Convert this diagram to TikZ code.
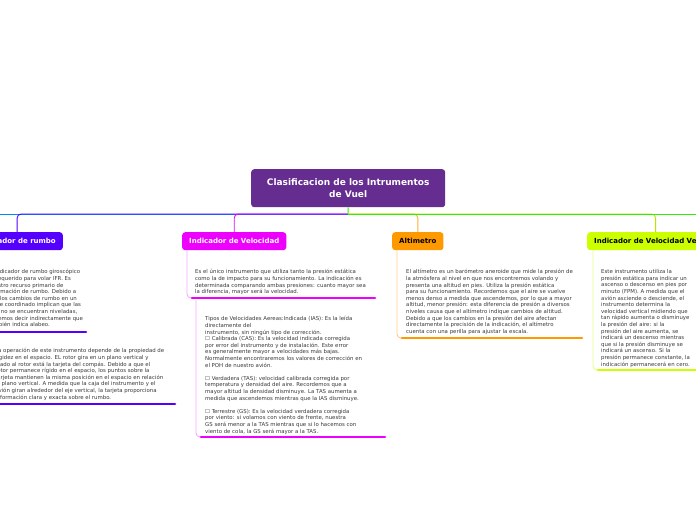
\documentclass[tikz,border=0pt]{standalone}
\usepackage{fontspec}
\setmainfont{DejaVu Sans}
\definecolor{purp}{HTML}{662D91}
\definecolor{rumboc}{HTML}{5500FF}
\definecolor{veloc}{HTML}{EE00FF}
\definecolor{altic}{HTML}{FF9900}
\definecolor{vvc}{HTML}{CCFF00}
\definecolor{greenc}{HTML}{33EE00}
\definecolor{lblue}{HTML}{0088FF}
\definecolor{lpink}{HTML}{F8A8FF}
\definecolor{lorange}{HTML}{FFCC88}
\definecolor{llime}{HTML}{E4FF88}
\definecolor{txt}{HTML}{3A3A3A}
\tikzset{
  title/.style={rounded corners=3pt, inner xsep=7pt, inner ysep=0pt, minimum height=18pt,
    font=\fontsize{7}{8}\selectfont\bfseries, text height=5.2pt, text depth=1.4pt},
  body/.style={anchor=north west, inner sep=0pt, align=left,
    font=\fontsize{5.4}{6.6}\selectfont, text=txt},
  uline/.style={line width=2.6pt, line cap=round},
  conn/.style={line width=0.9pt, rounded corners=4pt},
  trunk/.style={line width=0.9pt},
}
\begin{document}
\begin{tikzpicture}[x=1pt,y=-1pt]
\useasboundingbox (0,0) rectangle (696,520);
\fill[white] (0,0) rectangle (696,520);

% root
\node[rounded corners=3pt, fill=purp, text=white, anchor=north west, minimum width=194pt,
  minimum height=38pt, inner sep=0pt, align=center, font=\fontsize{9}{12}\selectfont\bfseries]
  (root) at (251,169) {Clasificacion de los Intrumentos\\de Vuel};

% branch titles
\node[title, fill=rumboc, text=white, anchor=north east] (rumbo) at (63,232) {Indicador de rumbo};
\node[title, fill=veloc, text=white, anchor=north west] (velo) at (182,232) {Indicador de Velocidad};
\node[title, fill=altic, text=black, anchor=north west] (alti) at (392,232) {Altimetro};
\node[title, fill=vvc, text=black, anchor=north west] (vv) at (587,232) {Indicador de Velocidad Vertical};

% main connectors
\coordinate (hub) at (348,214);
\coordinate (offL) at (-6,214);
\coordinate (offR) at (702,214);
\draw[trunk, lblue] (hub) -- (offL);
\draw[conn, rumboc] (hub) -| (rumbo.north);
\draw[conn, veloc] (hub) -| (velo.north);
\draw[conn, altic!80] (hub) -| (alti.north);
\draw[conn, vvc!90!black] (hub) -| (vv.north);
\draw[trunk, greenc] (hub) -- (offR);
\draw[trunk, greenc] (root.south) -- (hub);

% Rumbo blocks
\node[body] (r1) at (-12,269.3) {El indicador de rumbo giroscópico\\
es requerido para volar IFR. Es\\
nuestro recurso primario de\\
información de rumbo. Debido a\\
que los cambios de rumbo en un\\
viraje coordinado implican que las\\
alas no se encuentran niveladas,\\
podemos decir indirectamente que\\
también indica alabeo.};
\coordinate (r1a) at (-6,332);
\coordinate (r1b) at (86,332);
\draw[uline, rumboc] (r1a) -- (r1b);

\node[body] (r2) at (-5,348.3) {La operación de este instrumento depende de la propiedad de\\
rigidez en el espacio. EL rotor gira en un plano vertical y\\
fijado al rotor está la tarjeta del compás. Debido a que el\\
rotor permanece rígido en el espacio, los puntos sobre la\\
tarjeta mantienen la misma posición en el espacio en relación\\
al plano vertical. A medida que la caja del instrumento y el\\
avión giran alrededor del eje vertical, la tarjeta proporciona\\
información clara y exacta sobre el rumbo.};
\coordinate (r2a) at (-6,404);
\coordinate (r2b) at (175,404);
\draw[uline, rumboc] (r2a) -- (r2b);

% Velocidad blocks
\node[body] (v1) at (195,269.3) {Es el único instrumento que utiliza tanto la presión estática\\
como la de impacto para su funcionamiento. La indicación es\\
determinada comparando ambas presiones: cuanto mayor sea\\
la diferencia, mayor será la velocidad.};
\coordinate (v1s) at (187,250);
\coordinate (v1a) at (192,298);
\coordinate (v1b) at (375,298);
\draw[conn, lpink] (v1s) |- (v1a);
\draw[uline, veloc] (v1a) -- (v1b);

\node[body] (v2) at (205,316.3) {Tipos de Velocidades Aereas:Indicada (IAS): Es la leída\\
directamente del\\
instrumento, sin ningún tipo de corrección.\\
☐ Calibrada (CAS): Es la velocidad indicada corregida\\
por error del instrumento y de instalación. Este error\\
es generalmente mayor a velocidades más bajas.\\
Normalmente encontraremos los valores de corrección en\\
el POH de nuestro avión.\\[6.6pt]
☐ Verdadera (TAS): velocidad calibrada corregida por\\
temperatura y densidad del aire. Recordemos que a\\
mayor altitud la densidad disminuye. La TAS aumenta a\\
medida que ascendemos mientras que la IAS disminuye.\\[6.6pt]
☐ Terrestre (GS): Es la velocidad verdadera corregida\\
por viento: si volamos con viento de frente, nuestra\\
GS será menor a la TAS mientras que si lo hacemos con\\
viento de cola, la GS será mayor a la TAS.};
\coordinate (v2s) at (196,300);
\coordinate (v2a) at (201,437);
\coordinate (v2b) at (385,437);
\draw[conn, lpink] (v2s) |- (v2a);
\draw[uline, veloc] (v2a) -- (v2b);

% Altimetro block
\node[body] (a1) at (406,269.3) {El altímetro es un barómetro aneroide que mide la presión de\\
la atmósfera al nivel en que nos encontremos volando y\\
presenta una altitud en pies. Utiliza la presión estática\\
para su funcionamiento. Recordemos que el aire se vuelve\\
menos denso a medida que ascendemos, por lo que a mayor\\
altitud, menor presión: esta diferencia de presión a diversos\\
niveles causa que el altímetro indique cambios de altitud.\\
Debido a que los cambios en la presión del aire afectan\\
directamente la precisión de la indicación, el altímetro\\
cuenta con una perilla para ajustar la escala.};
\coordinate (a1s) at (397,250);
\coordinate (a1a) at (402,338);
\coordinate (a1b) at (582,338);
\draw[conn, lorange] (a1s) |- (a1a);
\draw[uline, altic] (a1a) -- (a1b);

% Velocidad vertical block
\node[body] (w1) at (601,269.3) {Este instrumento utiliza la\\
presión estática para indicar un\\
ascenso o descenso en pies por\\
minuto (FPM). A medida que el\\
avión asciende o desciende, el\\
instrumento determina la\\
velocidad vertical midiendo que\\
tan rápido aumenta o disminuye\\
la presión del aire: si la\\
presión del aire aumenta, se\\
indicará un descenso mientras\\
que si la presión disminuye se\\
indicará un ascenso. Si la\\
presión permanece constante, la\\
indicación permanecerá en cero.};
\coordinate (w1s) at (593,250);
\coordinate (w1a) at (598,370);
\coordinate (w1b) at (702,370);
\draw[conn, llime] (w1s) |- (w1a);
\draw[uline, vvc] (w1a) -- (w1b);
\end{tikzpicture}
\end{document}
